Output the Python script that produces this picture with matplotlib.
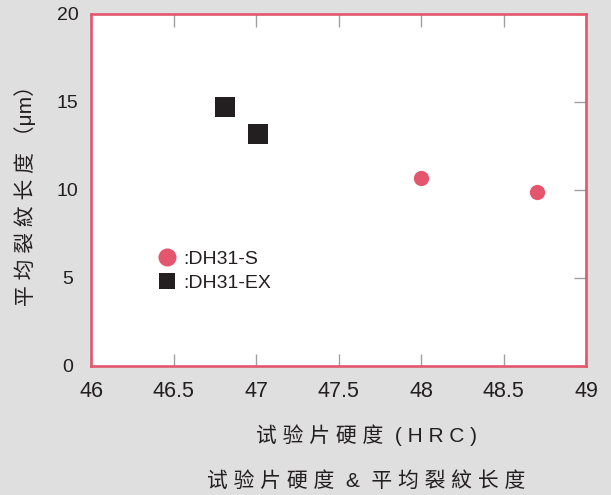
import numpy as np
import matplotlib
matplotlib.use("Agg")
import matplotlib.pyplot as plt
from matplotlib.lines import Line2D

plt.rcParams['font.family'] = ['Liberation Sans', 'Noto Sans CJK SC', 'DejaVu Sans']

# data
s_hardness = [48.0, 48.7]
s_crack = [10.7, 9.9]
ex_hardness = [46.81, 47.01]
ex_crack = [14.7, 13.2]
series_labels = [":DH31-S", ":DH31-EX"]
x_ticks = [46, 46.5, 47, 47.5, 48, 48.5, 49]
x_tick_labels = ["46", "46.5", "47", "47.5", "48", "48.5", "49"]
y_ticks = [0, 5, 10, 15, 20]

pink = '#e4566e'
dark = '#231f20'
bg = '#dfdfdf'
tick_gray = '#a0a0a0'

fig = plt.figure(figsize=(6.11, 4.95), dpi=100, facecolor=bg)
ax = fig.add_axes([91 / 611, 1 - 366 / 495, 495 / 611, 352 / 495])
ax.set_facecolor('white')

ax.plot(s_hardness, s_crack, 'o', color=pink, markersize=11, markeredgewidth=0, clip_on=False)
ax.plot(ex_hardness, ex_crack, 's', color=dark, markersize=15, markeredgewidth=0, clip_on=False)

ax.set_xlim(46, 49)
ax.set_ylim(0, 20)
ax.set_xticks(x_ticks)
ax.set_xticklabels(x_tick_labels)
ax.set_yticks(y_ticks)

for sp in ax.spines.values():
    sp.set_color(pink)
    sp.set_linewidth(1.9)

ax.tick_params(axis='x', direction='in', top=True, bottom=True, length=9, width=1,
               color=tick_gray, labelsize=15.5, labelcolor=dark, pad=11)
ax.tick_params(axis='y', direction='in', left=False, right=True, length=9, width=1,
               color=tick_gray, labelsize=14, labelcolor=dark, pad=17)
for lab in ax.get_yticklabels():
    lab.set_horizontalalignment('center')

handles = [
    Line2D([], [], marker='o', linestyle='none', color=pink, markersize=13, markeredgewidth=0),
    Line2D([], [], marker='s', linestyle='none', color=dark, markersize=11, markeredgewidth=0),
]
leg = ax.legend(handles, series_labels, loc='center left', bbox_to_anchor=(0.135, 0.27),
                frameon=False, fontsize=14, handlelength=0.95, handletextpad=0.35,
                borderpad=0, borderaxespad=0, labelspacing=0.35)
for t in leg.get_texts():
    t.set_color(dark)

fig.text(25 / 611, 1 - 190 / 495, "平 均 裂 紋 长 度 （μm）", rotation=90,
         ha='center', va='center', fontsize=15, color=dark)
fig.text(366 / 611, 1 - 435 / 495, "试 验 片 硬 度  ( H R C )",
         ha='center', va='center', fontsize=15, color=dark)
fig.text(366 / 611, 1 - 481 / 495, "试 验 片 硬 度  &  平 均 裂 紋 长 度",
         ha='center', va='center', fontsize=15, color=dark)

fig.savefig("out.png", dpi=100, facecolor=bg)
